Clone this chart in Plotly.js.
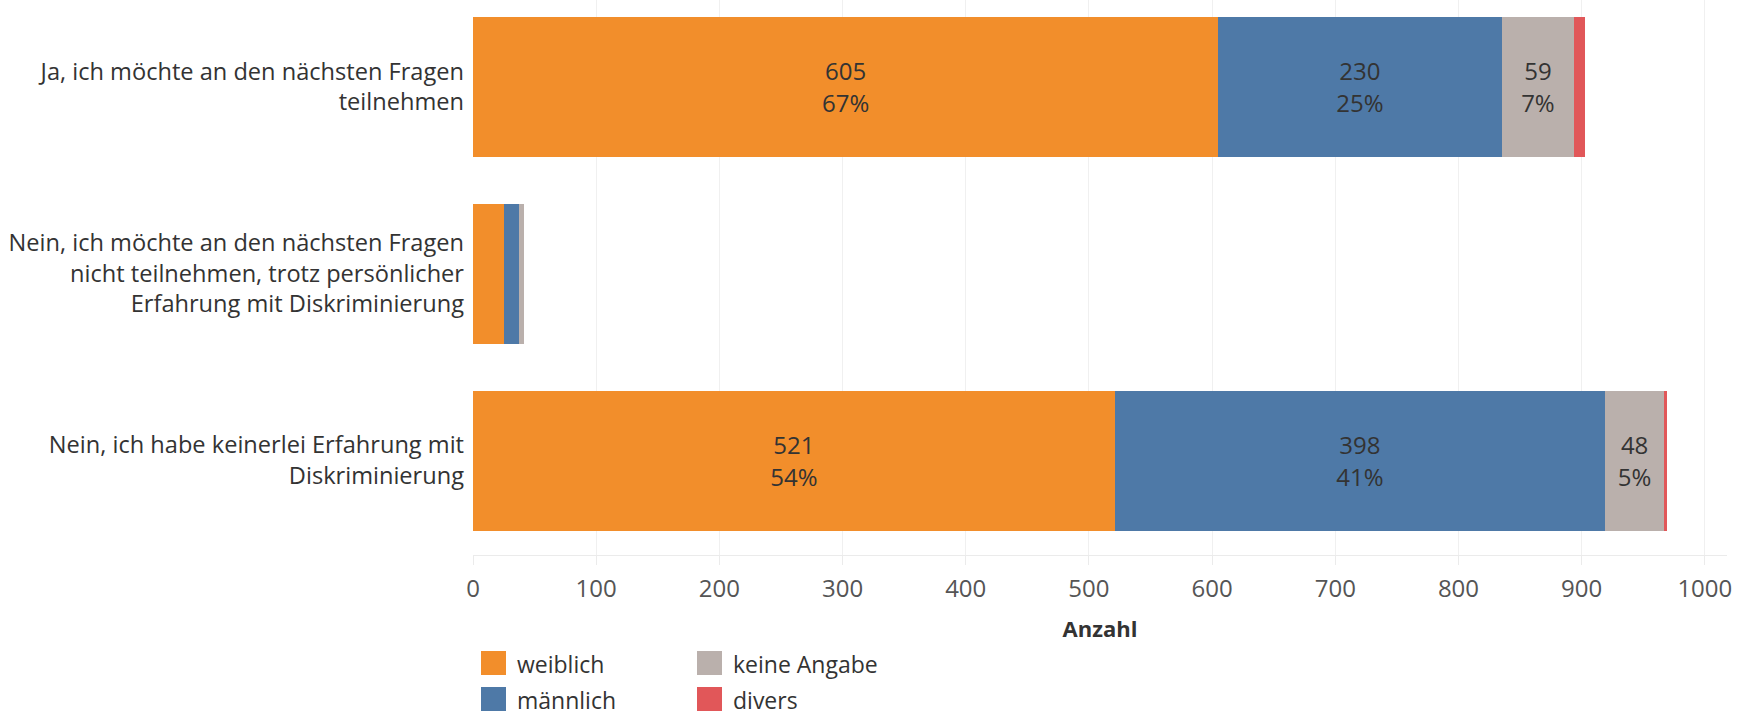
<!DOCTYPE html>
<html>
<head>
<meta charset="utf-8">
<script src="https://cdn.plot.ly/plotly-3.0.1.min.js"></script>
<style>
  html, body { margin: 0; padding: 0; background: #ffffff; }
  #chart { width: 1741px; height: 711px; }
</style>
</head>
<body>
<div id="chart"></div>
<script>
// ---- data ----
const categories = [
  'Ja, ich möchte an den nächsten Fragen<br>teilnehmen',
  'Nein, ich möchte an den nächsten Fragen<br>nicht teilnehmen, trotz persönlicher<br>Erfahrung mit Diskriminierung',
  'Nein, ich habe keinerlei Erfahrung mit<br>Diskriminierung'
];
const seriesNames = ['weiblich', 'männlich', 'keine Angabe', 'divers'];
const weiblich    = [605, 25, 521];
const maennlich   = [230, 12, 398];
const keineAngabe = [59, 4, 48];
const divers      = [9, 0, 2];
const xTicks = [0, 100, 200, 300, 400, 500, 600, 700, 800, 900, 1000];

const colors = ['#F28E2B', '#4E79A7', '#BAB0AC', '#E15759'];
const seriesValues = [weiblich, maennlich, keineAngabe, divers];

const totals = categories.map((_, i) => seriesValues.reduce((s, arr) => s + arr[i], 0));

const FONT = '"Open Sans", "Noto Sans", sans-serif';

const traces = seriesValues.map((vals, k) => ({
  type: 'bar',
  orientation: 'h',
  name: seriesNames[k],
  y: categories,
  x: vals,
  marker: { color: colors[k], line: { width: 0 } },
  text: vals.map((v, i) => v + '<br>' + Math.round(v / totals[i] * 100) + '%'),
  textposition: 'inside',
  insidetextanchor: 'middle',
  textangle: 0,
  insidetextfont: { family: FONT, size: 24, color: '#333333' },
  hoverinfo: 'x+name',
  showlegend: false
}));

// plot area in pixels
const PL = 473, PR = 1727, PT = 0, PB = 555;
const W = 1741, H = 711;
const pxX = x => (x - PL) / (PR - PL);
const pxY = y => (PB - y) / (PB - PT);

const shapes = [];
const annotations = [];
const legendPos = [
  { sx: 481, sy: 651 }, // weiblich
  { sx: 481, sy: 687 }, // männlich
  { sx: 697, sy: 651 }, // keine Angabe
  { sx: 697, sy: 687 }  // divers
];
seriesNames.forEach((n, k) => {
  const p = legendPos[k];
  shapes.push({
    type: 'rect', xref: 'paper', yref: 'paper',
    x0: pxX(p.sx), x1: pxX(p.sx + 25),
    y0: pxY(p.sy), y1: pxY(p.sy + 24),
    fillcolor: colors[k], line: { width: 0 }
  });
  annotations.push({
    xref: 'paper', yref: 'paper',
    x: pxX(p.sx + 34), y: pxY(p.sy + 12.5),
    xanchor: 'left', yanchor: 'middle',
    text: n, showarrow: false,
    font: { family: FONT, size: 23, color: '#333333' }
  });
});

const layout = {
  width: W, height: H,
  margin: { l: PL, r: W - PR, t: PT, b: H - PB, pad: 0 },
  paper_bgcolor: '#ffffff',
  plot_bgcolor: '#ffffff',
  barmode: 'stack',
  bargap: 0.251,
  showlegend: false,
  font: { family: FONT, color: '#333333' },
  uniformtext: { mode: 'hide', minsize: 24 },
  xaxis: {
    range: [0, 1018],
    tickvals: xTicks,
    ticktext: xTicks.map(String),
    showgrid: true,
    gridcolor: '#f0f0f0',
    gridwidth: 1,
    zeroline: false,
    showline: true,
    linecolor: '#ebebeb',
    linewidth: 1,
    ticks: 'outside',
    ticklen: 9,
    tickcolor: '#ebebeb',
    tickfont: { family: FONT, size: 24, color: '#555555' },
    ticklabelstandoff: 3,
    title: {
      text: '<b>Anzahl</b>',
      font: { family: FONT, size: 22, color: '#333333' },
      standoff: 18
    },
    fixedrange: true
  },
  yaxis: {
    type: 'category',
    range: [2.505, -0.463],
    showgrid: false,
    zeroline: false,
    showline: false,
    ticks: '',
    tickfont: { family: FONT, size: 23.6, color: '#333333' },
    ticklabelstandoff: 8,
    fixedrange: true
  },
  shapes: shapes,
  annotations: annotations
};

Plotly.newPlot('chart', traces, layout, { displayModeBar: false, staticPlot: true });
</script>
</body>
</html>
